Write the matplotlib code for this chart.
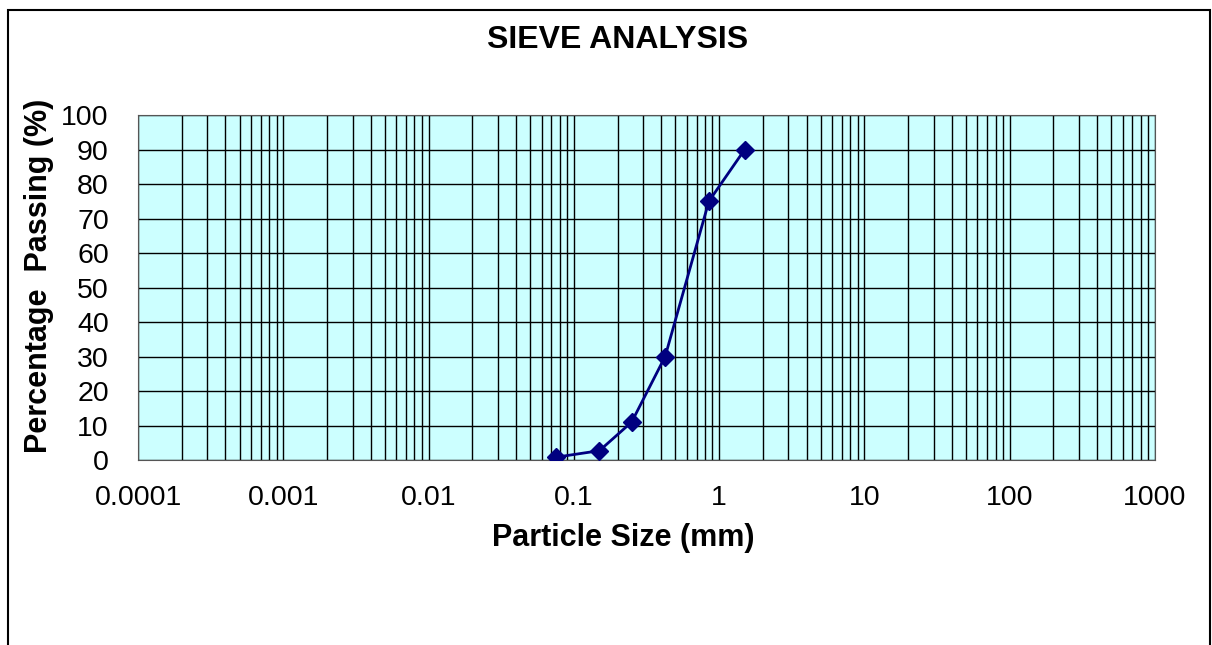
import matplotlib
matplotlib.use("Agg")
import matplotlib.pyplot as plt
from matplotlib.ticker import LogLocator, FixedLocator, NullFormatter
from matplotlib.patches import Rectangle

# sieve data
particle_size = [0.075, 0.15, 0.25, 0.425, 0.85, 1.5]
percent_passing = [0.8, 2.7, 11, 30, 75, 90]

x_ticks = [0.0001, 0.001, 0.01, 0.1, 1, 10, 100, 1000]
x_tick_labels = ["0.0001", "0.001", "0.01", "0.1", "1", "10", "100", "1000"]
y_ticks = list(range(0, 101, 10))

plt.rcParams['font.family'] = ['Liberation Sans', 'DejaVu Sans']

W, H = 1212, 645
fig = plt.figure(figsize=(W / 100, H / 100), dpi=100)
ax = fig.add_axes([138 / W, 1 - 460 / H, (1155 - 138) / W, (460 - 115) / H])

# outer frame of the chart area
fig.patches.append(Rectangle((8 / W, -0.1), (1210 - 8) / W, 1.1 - 10 / H,
                             transform=fig.transFigure, fill=False,
                             edgecolor='black', linewidth=1.5))

ax.set_facecolor('#CCFFFF')
ax.plot(particle_size, percent_passing, color='#000080', linewidth=2,
        marker='D', markersize=9, zorder=3)

ax.set_xscale('log')
ax.set_xlim(0.0001, 1000)
ax.set_ylim(0, 100)
ax.xaxis.set_major_locator(FixedLocator(x_ticks))
ax.set_xticklabels(x_tick_labels)
ax.xaxis.set_minor_locator(LogLocator(base=10, subs=range(2, 10), numticks=100))
ax.xaxis.set_minor_formatter(NullFormatter())
ax.set_yticks(y_ticks)

ax.grid(which='both', axis='x', color='black', linewidth=1)
ax.grid(which='major', axis='y', color='black', linewidth=1)
ax.tick_params(which='both', length=0, labelsize=20.5)
ax.tick_params(axis='x', pad=18)
ax.tick_params(axis='y', pad=21)
for s in ax.spines.values():
    s.set_color('#555555')

fig.text(618 / W, 1 - 40 / H, "SIEVE ANALYSIS", fontsize=23, fontweight='bold',
         ha='center', va='center')
ax.set_xlabel("Particle Size (mm)", fontsize=22, fontweight='bold')
ax.xaxis.set_label_coords((623 - 138) / 1017, -(538 - 460) / 345)
ax.xaxis.label.set_va('center')
ax.set_ylabel("Percentage  Passing (%)", fontsize=22, fontweight='bold')
ax.yaxis.set_label_coords(-(138 - 39) / 1017, (460 - 276) / 345)
ax.yaxis.label.set_va('center')

fig.savefig("out.png", dpi=100)
